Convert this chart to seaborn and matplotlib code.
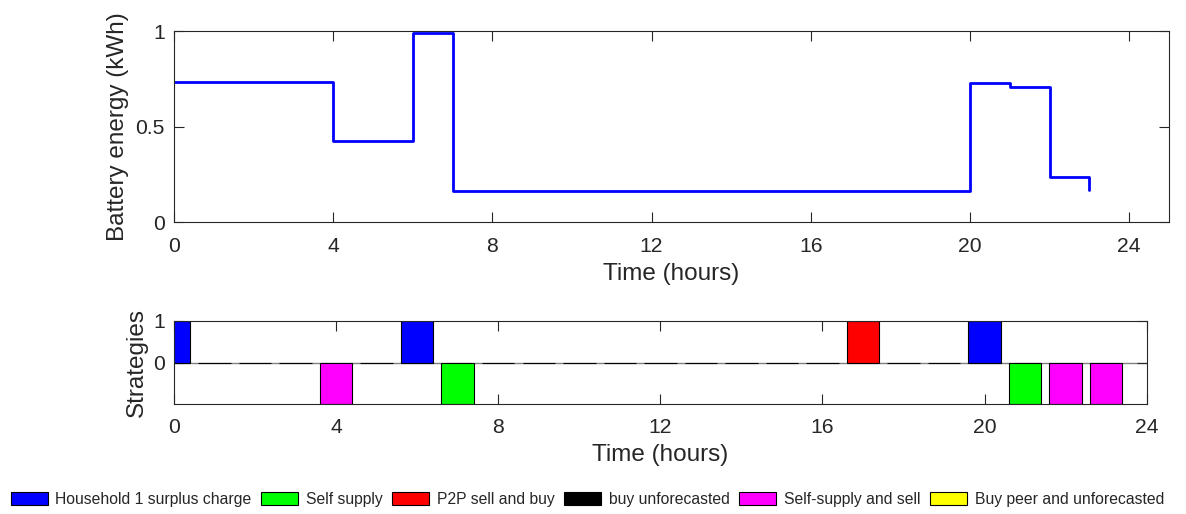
import matplotlib
matplotlib.use("Agg")
import matplotlib.pyplot as plt
from matplotlib.patches import Patch
import seaborn as sns
import pandas as pd

# Hourly battery state (kWh), one value per hour 0..23
hours = list(range(24))
battery_energy = [0.735, 0.735, 0.735, 0.735, 0.426, 0.426, 0.988, 0.162,
                  0.162, 0.162, 0.162, 0.162, 0.162, 0.162, 0.162, 0.162,
                  0.162, 0.162, 0.162, 0.162, 0.726, 0.705, 0.234, 0.17]

# Strategy chosen in each hour and its direction (+1 charge/buy, -1 supply, 0 none)
strategy = ["Household 1 surplus charge", "buy unforecasted", "buy unforecasted",
            "buy unforecasted", "Self-supply and sell", "buy unforecasted",
            "Household 1 surplus charge", "Self supply", "buy unforecasted",
            "buy unforecasted", "buy unforecasted", "buy unforecasted",
            "buy unforecasted", "buy unforecasted", "buy unforecasted",
            "buy unforecasted", "buy unforecasted", "P2P sell and buy",
            "buy unforecasted", "buy unforecasted", "Household 1 surplus charge",
            "Self supply", "Self-supply and sell", "Self-supply and sell"]
strategy_value = [1, 0, 0, 0, -1, 0, 1, -1, 0, 0, 0, 0, 0, 0, 0, 0, 0, 1, 0, 0,
                  1, -1, -1, -1]

legend_labels = ["Household 1 surplus charge", "Self supply", "P2P sell and buy",
                 "buy unforecasted", "Self-supply and sell",
                 "Buy peer and unforecasted"]
legend_colors = ["#0000FF", "#00FF00", "#FF0000", "#000000", "#FF00FF", "#FFFF00"]
palette = dict(zip(legend_labels, legend_colors))

sns.set_style("white")
plt.rcParams["font.family"] = ["Liberation Sans", "DejaVu Sans"]
axis_color = "#262626"
plt.rcParams.update({
    "axes.edgecolor": axis_color,
    "axes.linewidth": 0.8,
    "xtick.color": axis_color,
    "ytick.color": axis_color,
    "text.color": axis_color,
    "axes.labelcolor": axis_color,
})

fig = plt.figure(figsize=(11.86, 5.14), dpi=100)
ax1 = fig.add_axes([0.1467, 0.568, 0.839, 0.3716])
ax2 = fig.add_axes([0.1467, 0.2134, 0.8202, 0.1626])

energy_df = pd.DataFrame({"hour": hours, "energy": battery_energy})
sns.lineplot(data=energy_df, x="hour", y="energy", ax=ax1, color="#0000FF",
             linewidth=2.0, drawstyle="steps-post")
ax1.set_xlim(0, 25)
ax1.set_ylim(0, 1)
ax1.set_xticks(range(0, 25, 4))
ax1.set_yticks([0, 0.5, 1])
ax1.set_yticklabels(["0", "0.5", "1"])
ax1.set_xlabel("Time (hours)", fontsize=17.5, labelpad=5.5)
ax1.set_ylabel("Battery energy (kWh)", fontsize=17.5, labelpad=5)

strat_df = pd.DataFrame({"hour": hours, "value": strategy_value,
                         "strategy": strategy})
ax2.axhline(0, color="0.5", linewidth=1.0, zorder=0)
sns.barplot(data=strat_df, x="hour", y="value", hue="strategy",
            palette=palette, native_scale=True, dodge=False, width=0.8,
            saturation=1, edgecolor="black", linewidth=0.8, legend=False,
            errorbar=None, ax=ax2)
ax2.set_xlim(0, 24)
ax2.set_ylim(-1, 1)
ax2.set_xticks(range(0, 25, 4))
ax2.set_xticklabels([str(v) for v in range(0, 25, 4)])
ax2.set_yticks([0, 1])
ax2.set_xlabel("Time (hours)", fontsize=17.5, labelpad=5.5)
ax2.set_ylabel("Strategies", fontsize=17.5, labelpad=4)

for ax, xpad in ((ax1, 10.5), (ax2, 9.5)):
    ax.tick_params(direction="in", length=7, width=0.8, labelsize=15.2,
                   top=True, right=True, bottom=True, left=True)
    ax.tick_params(axis="x", pad=xpad)
    ax.tick_params(axis="y", pad=6.5)
    for s in ax.spines.values():
        s.set_visible(True)
        s.set_color(axis_color)

handles = [Patch(facecolor=c, edgecolor="black", linewidth=0.8)
           for c in legend_colors]
fig.legend(handles, legend_labels, loc="center", bbox_to_anchor=(0.4954, 0.028),
           ncol=6, frameon=False, handlelength=2.36,
           handleheight=0.92, handletextpad=0.5, columnspacing=0.6,
           borderaxespad=0, prop={"family": ["Liberation Sans", "DejaVu Sans"],
                                  "size": 11.3})

fig.savefig("out.png", dpi=100)
